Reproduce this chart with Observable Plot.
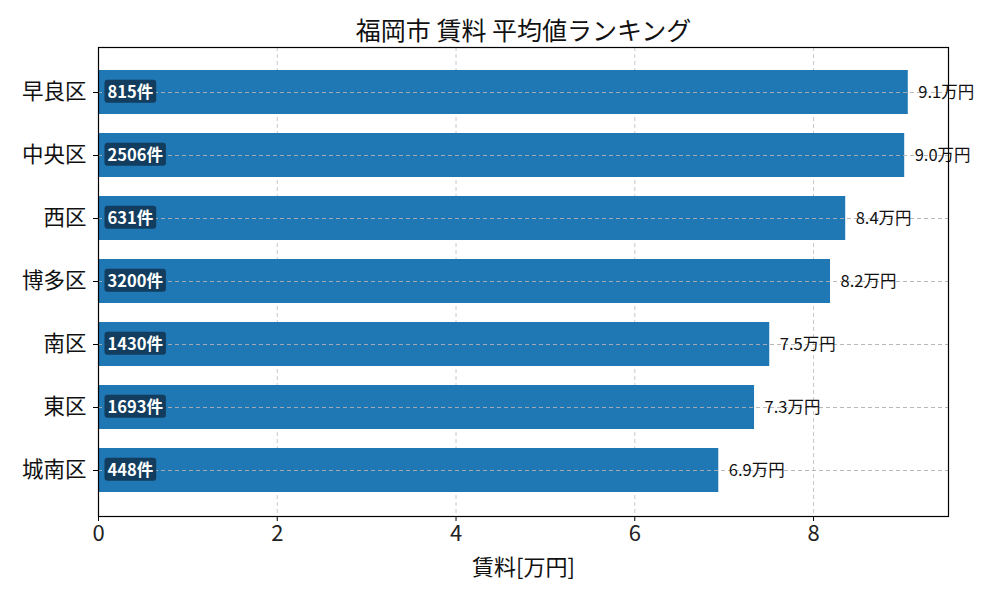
<!DOCTYPE html>
<html><head><meta charset="utf-8">
<script src="https://cdn.jsdelivr.net/npm/d3@7"></script>
<script src="https://cdn.jsdelivr.net/npm/@observablehq/plot@0.6"></script>
<style>
body{margin:0;background:#fff;font-family:"Noto Sans CJK JP","Noto Sans",sans-serif;}
</style></head>
<body><div id="chart"></div>
<script>
const districts = ["早良区","中央区","西区","博多区","南区","東区","城南区"];
const rent = [9.06, 9.02, 8.36, 8.19, 7.51, 7.34, 6.94];
const rentLabels = ["9.1","9.0","8.4","8.2","7.5","7.3","6.9"];
const counts = [815, 2506, 631, 3200, 1430, 1693, 448];
const xTicks = [0, 2, 4, 6, 8];
const title = "福岡市 賃料 平均値ランキング";
const xLabel = "賃料[万円]";

const data = districts.map((d, i) => ({district: d, rent: rent[i], label: rentLabels[i] + "万円", count: counts[i] + "件"}));

const chart = Plot.plot({
  width: 1000, height: 600,
  marginLeft: 98, marginRight: 52, marginTop: 47, marginBottom: 84,
  style: {fontFamily: '"Noto Sans CJK JP", sans-serif', background: "#fff"},
  x: {domain: [0, 9.51], ticks: xTicks, label: null},
  y: {domain: districts, paddingInner: 0.3, paddingOuter: 0.335, label: null},
  marks: [
    Plot.gridX(xTicks, {stroke: "#b0b0b0", strokeOpacity: 0.7, strokeDasharray: "4,3"}),
    Plot.barX(data, {y: "district", x: "rent", fill: "#1f77b4"}),
    Plot.gridY(districts, {stroke: "#b0b0b0", strokeOpacity: 0.9, strokeDasharray: "4,3"}),
    Plot.text(data, {y: "district", x: 0, text: "count", dx: 9, textAnchor: "start", fill: "white", fontWeight: "bold", fontSize: 16.5, className: "count-label"}),
    Plot.text(data, {y: "district", x: "rent", text: "label", dx: 10, textAnchor: "start", fill: "#111", fontSize: 16.5}),
    Plot.axisX({ticks: xTicks, tickSize: 5, tickPadding: 4, fontSize: 22, fill: "#222", label: null}),
    Plot.axisY({tickSize: 5, tickPadding: 7, fontSize: 21.5, fill: "#111", label: null}),
    Plot.text([title], {frameAnchor: "top", lineAnchor: "middle", dy: -16, fontSize: 25, fill: "#111"}),
    Plot.text([xLabel], {frameAnchor: "bottom", lineAnchor: "middle", dy: 51, fontSize: 22, fill: "#111"}),
    Plot.frame({stroke: "#000", strokeWidth: 1.2})
  ]
});
document.getElementById("chart").appendChild(chart);

// rounded dark boxes behind count labels
d3.select(chart).selectAll("g.count-label").each(function() {
  d3.select(this).selectAll("text").each(function() {
    const b = this.getBBox();
    const t = this.getAttribute("transform");
    const r = d3.select(this.parentNode).insert("rect", () => this)
      .attr("x", b.x - 3).attr("y", b.y + 1).attr("width", b.width + 6).attr("height", b.height - 1)
      .attr("rx", 3).attr("fill", "#123a5a").attr("fill-opacity", 0.95);
    if (t) r.attr("transform", t);
  });
});
</script></body></html>
